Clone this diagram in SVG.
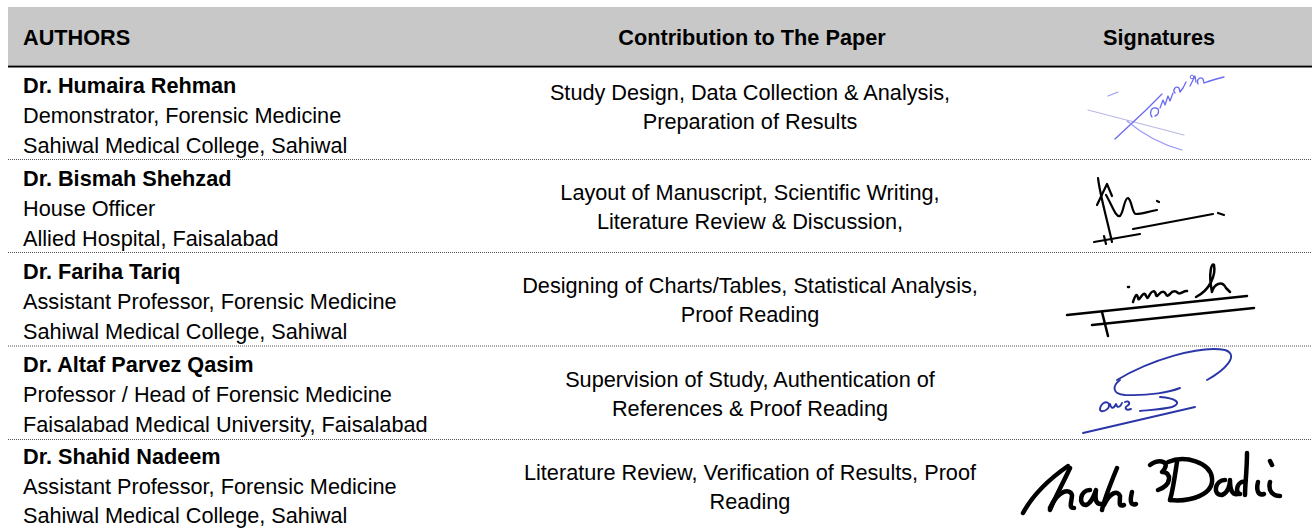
<svg xmlns="http://www.w3.org/2000/svg" width="1312" height="529" viewBox="0 0 1312 529">
<style>
text{font-family:"Liberation Sans",Arial,sans-serif;font-size:21.7px;fill:#000}
.b{font-weight:bold}
.c{text-anchor:middle}
.sep{stroke:#555;stroke-width:1;stroke-dasharray:1 1;fill:none}
.sig{fill:none;stroke-linecap:round;stroke-linejoin:round}
.k{stroke:#000;stroke-width:2.2}
.kk{stroke:#000;stroke-width:4.5}
.lb{stroke:#6a6af2;stroke-width:1.3}
.db{stroke:#2a36a8;stroke-width:1.9}
</style>
<g id="header">
<rect x="8" y="7" width="1304" height="58" fill="#c8c8c8"/>
<line x1="8" y1="66.5" x2="1312" y2="66.5" stroke="#000" stroke-width="2"/>
<text class="b" x="23" y="45">AUTHORS</text>
<text class="b c" x="752" y="45">Contribution to The Paper</text>
<text class="b c" x="1159" y="45">Signatures</text>
</g>
<g id="separators">
<line class="sep" x1="8" y1="159.5" x2="1312" y2="159.5"/>
<line class="sep" x1="8" y1="252.5" x2="1312" y2="252.5"/>
<line class="sep" x1="8" y1="346" x2="1312" y2="346"/>
<line class="sep" x1="8" y1="439.5" x2="1312" y2="439.5"/>
</g>
<g id="row1">
<text class="b" x="23" y="92.5">Dr. Humaira Rehman</text>
<text x="23" y="122.5">Demonstrator, Forensic Medicine</text>
<text x="23" y="152.5">Sahiwal Medical College, Sahiwal</text>
<text class="c" x="750" y="100">Study Design, Data Collection &amp; Analysis,</text>
<text class="c" x="750" y="128.5">Preparation of Results</text>
<g class="sig">
<path d="M1088,110 L1184,135" stroke="#b8b8e8" stroke-width="1.2"/>
<path class="lb" d="M1115,139 L1146,110 L1162,94"/>
<path d="M1127,121 Q1152,142 1182,150" stroke="#9a9af5" stroke-width="1.1"/>
<path d="M1108,96 L1118,92" stroke="#9a9af5" stroke-width="1.1"/>
<path class="lb" d="M1152,117 c-3,-4 -1,-10 4,-9 c4,1 3,7 -1,8"/>
<path class="lb" d="M1160,108 l3,-8 l2,5 l3,-9 l2,5 l3,-8"/>
<path class="lb" d="M1175,93 c-3,-3 1,-8 4,-5 l1,4 l3,-4 l3,-6"/>
<circle cx="1192" cy="77" r="1.8" fill="none" stroke="#6a6af2" stroke-width="1"/>
<path class="lb" d="M1190,86 l5,-10 l1,6"/>
<path class="lb" d="M1198,84 c-2,-4 2,-8 5,-5 l1,4 q8,-3 20,-6"/>
</g>
</g>
<g id="row2">
<text class="b" x="23" y="185.5">Dr. Bismah Shehzad</text>
<text x="23" y="215.5">House Officer</text>
<text x="23" y="245.5">Allied Hospital, Faisalabad</text>
<text class="c" x="750" y="200">Layout of Manuscript, Scientific Writing,</text>
<text class="c" x="750" y="228.5">Literature Review &amp; Discussion,</text>
<g class="sig k">
<path d="M1098,178 C1100,195 1106,215 1112,242"/>
<path d="M1097,205 L1107,184 L1112,196"/>
<path d="M1106,195 C1112,205 1116,218 1120,216 C1124,212 1124,198 1128,198 C1132,200 1132,214 1136,214 C1142,214 1146,212 1157,210"/>
<path d="M1157,201 l2,1"/>
<path d="M1133,229 L1213,214"/>
<path d="M1218,213 L1224,215"/>
<path d="M1094,242 L1140,234"/>
<path d="M1104,236 L1106,244"/>
</g>
</g>
<g id="row3">
<text class="b" x="23" y="278.5">Dr. Fariha Tariq</text>
<text x="23" y="308.5">Assistant Professor, Forensic Medicine</text>
<text x="23" y="338.5">Sahiwal Medical College, Sahiwal</text>
<text class="c" x="750" y="293">Designing of Charts/Tables, Statistical Analysis,</text>
<text class="c" x="750" y="321.5">Proof Reading</text>
<g class="sig" stroke="#000" stroke-width="2.5">
<path d="M1067,315 L1247,296"/>
<path d="M1092,325 L1254,308"/>
<path d="M1102,312 L1108,336"/>
<path d="M1128,287 l1,0"/>
<path d="M1133,302 c2,-6 4,-10 5,-4 c1,5 4,-6 7,-4 c2,3 2,6 4,2 c3,-6 6,-6 7,-1 c1,4 4,-5 8,-3 c3,2 2,6 6,2 c3,-4 6,-3 8,-1 c3,2 6,-3 9,-2"/>
<path d="M1196,297 C1210,290 1216,275 1214,265 C1212,262 1208,272 1212,292 C1214,284 1222,280 1226,288 L1230,292"/>
</g>
</g>
<g id="row4">
<text class="b" x="23" y="372">Dr. Altaf Parvez Qasim</text>
<text x="23" y="402">Professor / Head of Forensic Medicine</text>
<text x="23" y="432">Faisalabad Medical University, Faisalabad</text>
<text class="c" x="750" y="387">Supervision of Study, Authentication of</text>
<text class="c" x="750" y="415.5">References &amp; Proof Reading</text>
<g class="sig db">
<path d="M1117,380 C1150,360 1200,345 1225,350 C1240,355 1225,370 1207,380"/>
<path d="M1120,380 C1112,386 1112,394 1125,395 C1150,396 1170,392 1180,388"/>
<path d="M1160,397 C1175,398 1183,403 1172,407 C1165,409 1150,410 1140,411"/>
<path d="M1100,410 c0,-6 6,-10 9,-6 c1,4 -4,8 -8,7"/>
<path d="M1110,404 c1,4 3,6 6,0 c1,4 4,4 6,-1"/>
<path d="M1125,402 c4,-2 6,2 2,4 c-3,2 -1,5 4,3"/>
<path d="M1083,433 L1195,407"/>
</g>
</g>
<g id="row5">
<text class="b" x="23" y="464">Dr. Shahid Nadeem</text>
<text x="23" y="493.5">Assistant Professor, Forensic Medicine</text>
<text x="23" y="523">Sahiwal Medical College, Sahiwal</text>
<text class="c" x="750" y="480">Literature Review, Verification of Results, Proof</text>
<text class="c" x="750" y="508.5">Reading</text>
<g class="sig kk">
<path d="M1023,513 C1030,500 1045,482 1068,466"/>
<path d="M1070,468 C1062,485 1054,500 1050,510"/>
<path d="M1050,508 C1058,490 1070,488 1072,495 C1072,502 1068,508 1074,508"/>
<path d="M1090,490 C1080,490 1078,505 1086,505 C1092,503 1094,495 1096,490 C1095,498 1095,505 1102,504"/>
<path d="M1117,468 C1110,485 1104,500 1102,510"/>
<path d="M1104,505 C1110,492 1118,490 1120,496 C1120,503 1118,507 1124,505"/>
<path d="M1132,492 C1130,500 1130,506 1136,504"/>
<path d="M1150,465 C1160,458 1172,462 1162,472 C1172,472 1172,485 1158,490"/>
<path d="M1177,462 C1175,475 1173,490 1170,500"/>
<path d="M1168,462 C1185,455 1210,462 1212,478 C1214,495 1190,502 1170,500"/>
<path d="M1225,480 C1215,480 1212,495 1222,495 C1228,493 1230,485 1230,480 C1230,490 1232,495 1238,494"/>
<path d="M1247,453 C1247,470 1245,485 1245,495"/>
<path d="M1245,482 C1238,480 1234,492 1240,494"/>
<path d="M1258,482 C1256,490 1258,496 1264,494"/>
<path d="M1270,482 C1268,490 1272,496 1280,496"/>
<path d="M1270,461 l2,4"/>
</g>
</g>
</svg>
